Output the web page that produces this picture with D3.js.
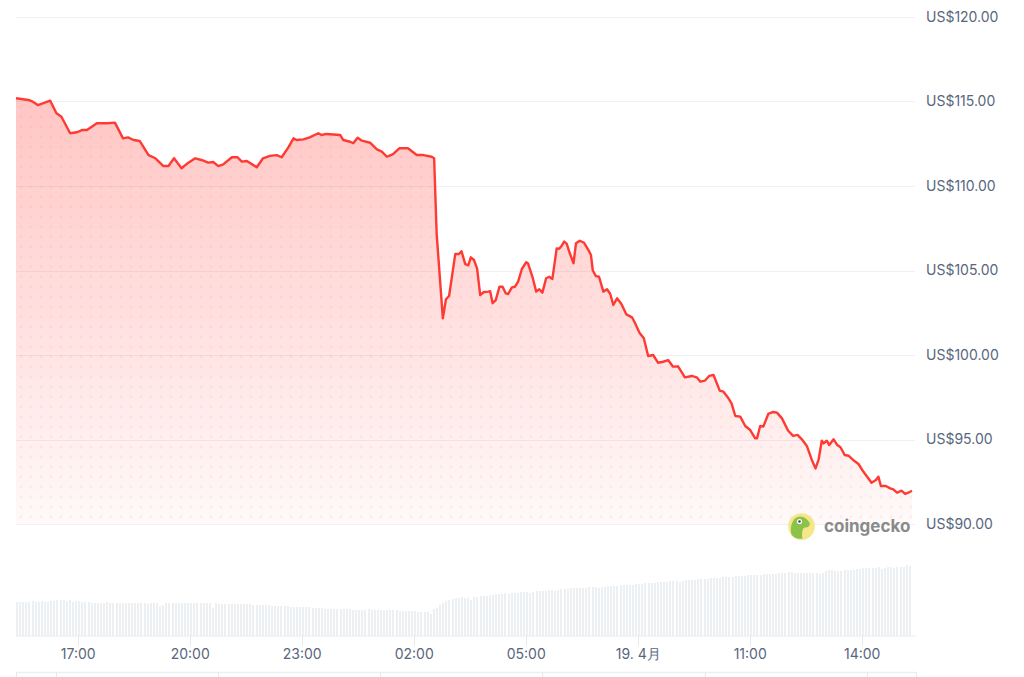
<!DOCTYPE html>
<html><head><meta charset="utf-8">
<script src="https://cdn.jsdelivr.net/npm/d3@7"></script>
<style>
html,body{margin:0;padding:0;background:#fff;}
svg{display:block;font-family:Inter,"Noto Sans",sans-serif;}
</style></head>
<body><svg id="chart" width="1024" height="677"></svg>
<script>
// ---- data ----
// minutes since 18 Apr 15:20 (24h window)
const priceMinutes = [0,20,27,35,43,55,65,73,87,98,106,114,130,146,159,172,180,189,199,213,224,237,245,254,266,277,288,298,309,317,325,333,347,356,363,371,387,397,408,419,427,438,446,451,462,472,486,491,499,521,526,537,542,549,556,569,580,588,596,606,616,630,644,655,668,672,676,686,691,696,706,712,716,722,727,731,736,741,746,752,759,762,766,771,777,782,787,791,797,802,807,813,820,823,830,836,841,846,852,857,862,869,873,877,881,885,890,896,900,906,913,920,924,927,932,937,944,950,955,960,966,973,981,990,995,1002,1009,1016,1024,1032,1040,1048,1056,1064,1075,1086,1094,1100,1107,1114,1121,1131,1137,1145,1150,1156,1164,1172,1180,1188,1191,1196,1201,1209,1217,1223,1231,1241,1249,1256,1263,1271,1279,1285,1290,1295,1298,1303,1307,1314,1320,1325,1332,1338,1347,1354,1362,1375,1382,1386,1390,1398,1405,1410,1416,1423,1429,1434,1440];
const prices = [115.19,115.09,114.99,114.79,114.89,115.05,114.30,114.10,113.12,113.18,113.31,113.31,113.71,113.71,113.75,112.82,112.88,112.72,112.66,111.83,111.64,111.18,111.18,111.64,111.05,111.38,111.64,111.54,111.38,111.42,111.18,111.28,111.70,111.70,111.44,111.48,111.11,111.64,111.78,111.83,111.70,112.30,112.82,112.72,112.76,112.88,113.12,113.02,113.08,113.02,112.72,112.62,112.53,112.86,112.68,112.56,112.17,112.03,111.73,111.88,112.23,112.23,111.83,111.83,111.73,111.64,107.20,102.17,103.30,103.49,105.98,105.98,106.14,105.38,105.31,105.78,105.62,105.13,103.55,103.73,103.75,103.77,103.06,103.25,104.04,104.04,103.65,103.61,104.00,104.04,104.34,105.09,105.49,105.41,104.63,103.75,103.89,103.69,104.54,104.63,104.50,106.31,106.29,106.47,106.71,106.59,106.02,105.43,106.61,106.76,106.64,106.21,105.92,105.00,104.67,104.63,103.75,103.89,103.61,102.96,103.36,103.02,102.40,102.23,101.88,101.32,100.99,99.94,100.00,99.54,99.60,99.70,99.31,99.33,98.68,98.76,98.68,98.42,98.48,98.76,98.82,97.89,97.83,97.44,97.14,96.39,96.35,95.80,95.56,95.07,95.07,95.80,95.76,96.51,96.63,96.59,96.25,95.52,95.21,95.27,95.01,94.62,93.79,93.29,93.83,94.93,94.77,94.93,94.67,95.01,94.67,94.54,94.08,94.04,93.74,93.55,93.09,92.44,92.60,92.80,92.25,92.25,92.11,92.05,91.85,91.97,91.78,91.85,91.97];
// 5-minute volume bars (relative units)
const volumes = [
34,34,34,34,34,35,34,34,35,34,34,35,
35,36,36,36,35,36,34,35,35,34,34,34,
33,33,33,33,33,34,33,33,33,33,33,33,
33,33,33,33,33,33,32,33,33,33,30,31,
33,33,33,33,33,33,33,33,33,33,33,33,
33,33,33,28,33,32,32,32,32,32,32,32,
32,32,32,32,31,31,31,31,31,31,30,30,
30,30,30,30,29,29,29,29,29,29,29,28,
28,28,28,27,27,27,27,27,27,27,27,27,
26,26,26,26,26,27,26,26,26,26,26,26,
26,26,26,25,25,25,25,25,25,24,24,24,
24,22,27,28,31,33,35,36,37,38,38,39,
38,38,36,39,39,40,40,40,41,41,42,42,
42,43,42,43,43,43,44,44,44,43,44,45,
45,45,45,46,46,45,46,47,47,47,48,48,
48,48,48,48,49,49,49,48,49,49,50,50,
50,50,51,51,51,51,51,52,52,52,53,53,
53,53,54,54,54,54,55,55,55,54,55,56,
56,56,56,57,57,57,57,58,58,58,58,59,
59,59,59,60,60,60,60,61,61,61,61,61,
62,62,62,62,62,63,63,63,64,64,63,63,
63,63,63,63,63,63,62,63,65,66,66,65,
65,65,66,66,66,66,67,67,68,68,68,68,
68,69,67,68,69,69,68,69,69,69,71,70];
const yTicks = [90,95,100,105,110,115,120];
const xTickMinutes = [100,280,460,640,820,1000,1180,1360];
const xTickLabels = ["17:00","20:00","23:00","02:00","05:00","19. 4月","11:00","14:00"];
const navMinutes = [0,64,325,585,846,1108,1368,1446];

// ---- layout ----
const svg = d3.select("#chart");
const X0 = 16, X1 = 912;
const start = new Date(2025,3,18,15,20);
const t = m => new Date(start.getTime() + m*60000);
const x = d3.scaleTime().domain([t(0), t(1440)]).range([X0, X1]);
const y = d3.scaleLinear().domain([90,120]).range([524,17]);
const vy = d3.scaleLinear().domain([0,100]).range([635.5,535.5]);
const gridColor = "#eff1f4", textColor = "#58667e", red = "#ff3a33";

const defs = svg.append("defs");
const grad = defs.append("linearGradient").attr("id","areaGrad")
  .attr("gradientUnits","userSpaceOnUse").attr("x1",0).attr("x2",0)
  .attr("y1",y(120)).attr("y2",y(90));
grad.append("stop").attr("offset",0).attr("stop-color",red).attr("stop-opacity",0.34);
grad.append("stop").attr("offset",1).attr("stop-color",red).attr("stop-opacity",0.03);
const pat = defs.append("pattern").attr("id","dots").attr("patternUnits","userSpaceOnUse")
  .attr("width",10).attr("height",10).attr("x",X0).attr("y",2);
pat.append("circle").attr("cx",5).attr("cy",5).attr("r",1.4).attr("fill",red).attr("fill-opacity",0.07);

// grid
svg.append("g").selectAll("line").data(yTicks).join("line")
  .attr("x1",X0).attr("x2",915).attr("y1",d=>Math.round(y(d))+0.5).attr("y2",d=>Math.round(y(d))+0.5)
  .attr("stroke",gridColor).attr("stroke-width",1);

// right axis labels
svg.append("g").selectAll("text").data(yTicks).join("text")
  .attr("x",926).attr("y",d=>y(d)).attr("dy","0.35em")
  .attr("fill",textColor).attr("font-size",14)
  .text(d=>"US$"+d3.format(".2f")(d));

const pts = priceMinutes.map((m,i)=>({t:t(m), v:prices[i]}));
const area = d3.area().x(d=>x(d.t)).y0(y(90)).y1(d=>y(d.v));
svg.append("path").datum(pts).attr("d",area).attr("fill","url(#areaGrad)");
svg.append("path").datum(pts).attr("d",area).attr("fill","url(#dots)");
svg.append("path").datum(pts).attr("d",d3.line().x(d=>x(d.t)).y(d=>y(d.v)))
  .attr("fill","none").attr("stroke",red).attr("stroke-width",2.4).attr("stroke-linejoin","round");

// volume
const band = d3.scaleBand().domain(d3.range(volumes.length)).range([X0,X1]);
svg.append("g").selectAll("rect").data(volumes).join("rect")
  .attr("x",(d,i)=>Math.round(band(i))).attr("width",2)
  .attr("y",d=>Math.round(vy(d))).attr("height",d=>Math.round(vy(0))-Math.round(vy(d))).attr("fill","#edf0f3");
svg.append("line").attr("x1",X0).attr("x2",916).attr("y1",636).attr("y2",636)
  .attr("stroke","#e9ecf0").attr("stroke-width",1);

// x axis
const xa = svg.append("g");
xa.selectAll("line").data(xTickMinutes).join("line")
  .attr("x1",m=>Math.round(x(t(m)))+0.5).attr("x2",m=>Math.round(x(t(m)))+0.5)
  .attr("y1",636).attr("y2",646).attr("stroke","#e6e8ec");
xa.selectAll("text").data(xTickMinutes).join("text")
  .attr("x",m=>x(t(m))).attr("y",659).attr("text-anchor","middle")
  .attr("fill",textColor).attr("font-size",14)
  .text((m,i)=>xTickLabels[i]);

// navigator strip
svg.append("line").attr("x1",X0).attr("x2",916).attr("y1",672.5).attr("y2",672.5)
  .attr("stroke","#eceef1").attr("stroke-width",1.5);
svg.append("g").selectAll("line").data(navMinutes).join("line")
  .attr("x1",m=>Math.round(x(t(m)))+0.5).attr("x2",m=>Math.round(x(t(m)))+0.5)
  .attr("y1",672).attr("y2",677).attr("stroke","#e6e8ec");

// coingecko watermark
const logo = svg.append("g").attr("transform","translate(801.5,526.5)");
logo.append("circle").attr("r",13.3).attr("fill","#f5e68a");
logo.append("path").attr("d","M-10,8 C-12,0 -9,-9 -2,-10 C3,-10 6,-7 8,-4 C9,-1 7,1 3,1 C1,2 0,6 1,12 C-4,13 -8,11 -10,8 Z")
  .attr("fill","#8bc34a");
logo.append("circle").attr("cx",-2).attr("cy",-5).attr("r",2.6).attr("fill","#fff");
logo.append("circle").attr("cx",-2).attr("cy",-5).attr("r",1.3).attr("fill","#4a4a4a");
svg.append("text").attr("x",824).attr("y",532).attr("font-size",17).attr("font-weight",700)
  .attr("fill","#8a8a8a").text("coingecko");
</script></body></html>
